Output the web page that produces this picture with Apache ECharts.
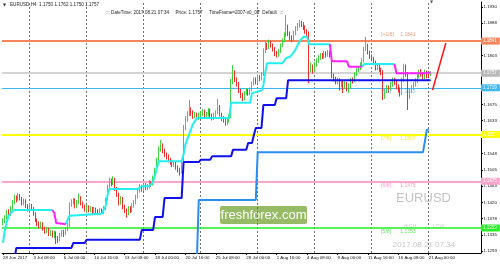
<!DOCTYPE html>
<html><head><meta charset="utf-8">
<script src="https://cdn.jsdelivr.net/npm/echarts@6/dist/echarts.min.js"></script>
<style>html,body{margin:0;padding:0;background:#fff}#c{width:500px;height:264px}</style>
</head><body><div id="c"></div>
<script>
// [open, close, low, high] H4 bars, 28 Jun 2017 16:00 ... 21 Aug 2017 04:00
const candles = [
[1.1366,1.1372,1.1360,1.1378],[1.1372,1.1380,1.1366,1.1386],[1.1380,1.1395,1.1376,1.1400],[1.1395,1.1388,1.1382,1.1402],
[1.1388,1.1405,1.1385,1.1410],[1.1405,1.1420,1.1400,1.1426],[1.1420,1.1432,1.1415,1.1440],[1.1432,1.1428,1.1420,1.1438],
[1.1428,1.1438,1.1424,1.1444],[1.1438,1.1430,1.1425,1.1442],[1.1430,1.1418,1.1412,1.1434],[1.1418,1.1425,1.1412,1.1430],
[1.1425,1.1410,1.1405,1.1428],[1.1410,1.1402,1.1396,1.1415],[1.1402,1.1412,1.1398,1.1418],[1.1412,1.1405,1.1398,1.1416],
[1.1405,1.1390,1.1385,1.1408],[1.1390,1.1372,1.1368,1.1394],[1.1372,1.1365,1.1358,1.1378],[1.1365,1.1358,1.1352,1.1370],
[1.1358,1.1365,1.1352,1.1370],[1.1365,1.1352,1.1346,1.1368],[1.1352,1.1345,1.1338,1.1356],[1.1345,1.1350,1.1340,1.1356],
[1.1350,1.1338,1.1332,1.1354],[1.1338,1.1342,1.1332,1.1348],[1.1342,1.1335,1.1328,1.1346],[1.1335,1.1340,1.1326,1.1346],
[1.1340,1.1325,1.1311,1.1344],[1.1325,1.1322,1.1314,1.1332],[1.1322,1.1335,1.1318,1.1340],[1.1335,1.1342,1.1330,1.1348],
[1.1342,1.1338,1.1330,1.1348],[1.1338,1.1350,1.1334,1.1355],[1.1350,1.1360,1.1345,1.1366],[1.1360,1.1415,1.1356,1.1420],
[1.1415,1.1420,1.1408,1.1428],[1.1420,1.1425,1.1414,1.1432],[1.1425,1.1410,1.1404,1.1430],[1.1410,1.1420,1.1405,1.1426],
[1.1420,1.1432,1.1415,1.1442],[1.1432,1.1418,1.1412,1.1436],[1.1418,1.1410,1.1404,1.1422],[1.1410,1.1402,1.1396,1.1414],
[1.1402,1.1408,1.1396,1.1414],[1.1408,1.1400,1.1394,1.1412],[1.1400,1.1405,1.1394,1.1410],[1.1405,1.1395,1.1390,1.1408],
[1.1395,1.1402,1.1390,1.1408],[1.1402,1.1398,1.1392,1.1406],[1.1398,1.1392,1.1386,1.1402],[1.1392,1.1400,1.1388,1.1405],
[1.1400,1.1395,1.1390,1.1404],[1.1395,1.1405,1.1390,1.1410],[1.1405,1.1428,1.1400,1.1432],[1.1428,1.1460,1.1424,1.1466],
[1.1460,1.1478,1.1455,1.1484],[1.1478,1.1470,1.1462,1.1482],[1.1470,1.1480,1.1465,1.1488],[1.1480,1.1455,1.1450,1.1484],
[1.1455,1.1440,1.1434,1.1460],[1.1440,1.1420,1.1412,1.1445],[1.1420,1.1430,1.1414,1.1436],[1.1430,1.1410,1.1402,1.1434],
[1.1410,1.1400,1.1392,1.1414],[1.1400,1.1392,1.1380,1.1404],[1.1392,1.1405,1.1386,1.1410],[1.1405,1.1398,1.1392,1.1410],
[1.1398,1.1412,1.1394,1.1418],[1.1412,1.1420,1.1406,1.1426],[1.1420,1.1435,1.1415,1.1440],[1.1435,1.1450,1.1430,1.1455],
[1.1450,1.1462,1.1445,1.1468],[1.1462,1.1455,1.1448,1.1466],[1.1455,1.1465,1.1450,1.1470],[1.1465,1.1458,1.1452,1.1470],
[1.1458,1.1462,1.1452,1.1468],[1.1462,1.1472,1.1456,1.1478],[1.1472,1.1468,1.1460,1.1476],[1.1468,1.1485,1.1464,1.1490],
[1.1485,1.1505,1.1480,1.1510],[1.1505,1.1530,1.1500,1.1536],[1.1530,1.1560,1.1526,1.1566],[1.1560,1.1570,1.1552,1.1583],
[1.1570,1.1555,1.1548,1.1574],[1.1555,1.1545,1.1538,1.1560],[1.1545,1.1540,1.1532,1.1550],[1.1540,1.1530,1.1524,1.1545],
[1.1530,1.1525,1.1518,1.1536],[1.1525,1.1520,1.1512,1.1530],[1.1520,1.1522,1.1512,1.1528],[1.1522,1.1512,1.1505,1.1526],
[1.1512,1.1505,1.1498,1.1516],[1.1505,1.1500,1.1490,1.1510],[1.1500,1.1520,1.1495,1.1525],[1.1520,1.1615,1.1516,1.1622],
[1.1615,1.1638,1.1608,1.1645],[1.1638,1.1650,1.1630,1.1658],[1.1650,1.1662,1.1645,1.1687],[1.1662,1.1655,1.1646,1.1668],
[1.1655,1.1645,1.1638,1.1660],[1.1645,1.1650,1.1640,1.1656],[1.1650,1.1640,1.1634,1.1654],[1.1640,1.1648,1.1635,1.1654],
[1.1648,1.1652,1.1640,1.1658],[1.1652,1.1658,1.1646,1.1664],[1.1658,1.1645,1.1640,1.1662],[1.1645,1.1650,1.1638,1.1656],
[1.1650,1.1660,1.1644,1.1666],[1.1660,1.1648,1.1642,1.1664],[1.1648,1.1640,1.1634,1.1652],[1.1640,1.1648,1.1635,1.1654],
[1.1648,1.1655,1.1642,1.1660],[1.1655,1.1670,1.1650,1.1690],[1.1670,1.1650,1.1644,1.1674],[1.1650,1.1640,1.1632,1.1654],
[1.1640,1.1635,1.1628,1.1645],[1.1635,1.1628,1.1620,1.1640],[1.1628,1.1632,1.1622,1.1638],[1.1632,1.1645,1.1628,1.1650],
[1.1645,1.1735,1.1640,1.1742],[1.1735,1.1760,1.1728,1.1778],[1.1760,1.1740,1.1734,1.1765],[1.1740,1.1730,1.1722,1.1746],
[1.1730,1.1712,1.1705,1.1734],[1.1712,1.1700,1.1692,1.1716],[1.1700,1.1690,1.1684,1.1706],[1.1690,1.1705,1.1686,1.1710],
[1.1705,1.1712,1.1700,1.1718],[1.1712,1.1705,1.1698,1.1716],[1.1705,1.1715,1.1700,1.1720],[1.1715,1.1730,1.1710,1.1735],
[1.1730,1.1740,1.1725,1.1746],[1.1740,1.1735,1.1728,1.1746],[1.1735,1.1748,1.1730,1.1754],[1.1748,1.1742,1.1736,1.1752],
[1.1742,1.1755,1.1738,1.1760],[1.1755,1.1815,1.1750,1.1822],[1.1815,1.1830,1.1810,1.1838],[1.1830,1.1825,1.1818,1.1836],
[1.1825,1.1838,1.1820,1.1845],[1.1838,1.1830,1.1824,1.1842],[1.1830,1.1820,1.1814,1.1835],[1.1820,1.1810,1.1802,1.1825],
[1.1810,1.1805,1.1798,1.1815],[1.1805,1.1815,1.1800,1.1820],[1.1815,1.1830,1.1810,1.1835],[1.1830,1.1842,1.1825,1.1848],
[1.1842,1.1858,1.1838,1.1864],[1.1858,1.1880,1.1852,1.1909],[1.1880,1.1860,1.1854,1.1884],[1.1860,1.1850,1.1842,1.1866],
[1.1850,1.1845,1.1838,1.1856],[1.1845,1.1862,1.1840,1.1868],[1.1862,1.1875,1.1856,1.1880],[1.1875,1.1882,1.1868,1.1888],
[1.1882,1.1890,1.1876,1.1896],[1.1890,1.1885,1.1878,1.1894],[1.1885,1.1878,1.1870,1.1890],[1.1878,1.1868,1.1860,1.1882],
[1.1868,1.1860,1.1852,1.1872],[1.1860,1.1770,1.1731,1.1866],[1.1770,1.1775,1.1760,1.1785],[1.1775,1.1765,1.1756,1.1780],
[1.1765,1.1780,1.1760,1.1786],[1.1780,1.1790,1.1774,1.1796],[1.1790,1.1798,1.1784,1.1804],[1.1798,1.1805,1.1792,1.1810],
[1.1805,1.1800,1.1794,1.1810],[1.1800,1.1810,1.1795,1.1816],[1.1810,1.1805,1.1798,1.1814],[1.1805,1.1812,1.1800,1.1818],
[1.1812,1.1805,1.1798,1.1816],[1.1805,1.1750,1.1744,1.1810],[1.1750,1.1742,1.1735,1.1756],[1.1742,1.1735,1.1728,1.1748],
[1.1735,1.1740,1.1728,1.1746],[1.1740,1.1728,1.1712,1.1744],[1.1728,1.1735,1.1720,1.1740],[1.1735,1.1722,1.1705,1.1738],
[1.1722,1.1730,1.1716,1.1736],[1.1730,1.1720,1.1710,1.1734],[1.1720,1.1725,1.1705,1.1730],[1.1725,1.1740,1.1718,1.1745],
[1.1740,1.1738,1.1730,1.1746],[1.1738,1.1755,1.1734,1.1760],[1.1755,1.1765,1.1750,1.1770],[1.1765,1.1770,1.1760,1.1776],
[1.1770,1.1780,1.1765,1.1786],[1.1780,1.1790,1.1775,1.1796],[1.1790,1.1820,1.1785,1.1826],[1.1820,1.1830,1.1815,1.1852],
[1.1830,1.1812,1.1806,1.1834],[1.1812,1.1800,1.1794,1.1816],[1.1800,1.1795,1.1788,1.1806],[1.1795,1.1785,1.1778,1.1800],
[1.1785,1.1770,1.1764,1.1790],[1.1770,1.1778,1.1765,1.1784],[1.1778,1.1768,1.1760,1.1782],[1.1768,1.1760,1.1752,1.1772],
[1.1760,1.1695,1.1687,1.1765],[1.1695,1.1710,1.1690,1.1716],[1.1710,1.1720,1.1705,1.1726],[1.1720,1.1715,1.1706,1.1725],
[1.1715,1.1728,1.1710,1.1734],[1.1728,1.1740,1.1722,1.1746],[1.1740,1.1735,1.1726,1.1745],[1.1735,1.1722,1.1715,1.1740],
[1.1722,1.1715,1.1706,1.1728],[1.1715,1.1705,1.1696,1.1720],[1.1705,1.1740,1.1700,1.1746],[1.1740,1.1775,1.1735,1.1782],
[1.1775,1.1755,1.1748,1.1780],[1.1755,1.1700,1.1661,1.1760],[1.1700,1.1712,1.1690,1.1718],[1.1712,1.1720,1.1705,1.1726],
[1.1720,1.1728,1.1714,1.1734],[1.1728,1.1738,1.1722,1.1744],[1.1738,1.1750,1.1732,1.1756],[1.1750,1.1760,1.1744,1.1766],
[1.1760,1.1755,1.1748,1.1768],[1.1755,1.1748,1.1740,1.1760],[1.1748,1.1760,1.1742,1.1766],[1.1760,1.1750,1.1744,1.1764],
[1.1752,1.1750,1.1744,1.1756],[1.1750,1.1757,1.1750,1.1762]
];
// trailing line vertices [bar index, price]
const trendLine = [[0,1.1314],[1,1.1348],[2,1.1369],[3,1.1384],[4,1.1392],[5,1.1397],[6,1.1400],[26,1.1400],[27,1.1392],[28,1.1366],[29,1.1363],[33,1.1363],[34,1.1363],[35,1.1385],[36,1.1390],[52,1.1390],[53,1.1395],[54,1.1410],[55,1.1440],[56,1.1455],[71,1.1455],[72,1.1460],[73,1.1462],[77,1.1462],[78,1.1468],[79,1.1475],[80,1.1490],[81,1.1510],[82,1.1527],[94,1.1527],[95,1.1545],[96,1.1572],[97,1.1585],[98,1.1598],[99,1.1612],[100,1.1625],[101,1.1632],[102,1.1640],[119,1.1640],[120,1.1680],[130,1.1680],[131,1.1705],[132,1.1710],[136,1.1712],[137,1.1725],[138,1.1760],[139,1.1783],[147,1.1783],[148,1.1790],[149,1.1797],[151,1.1800],[152,1.1805],[153,1.1812],[154,1.1820],[155,1.1830],[156,1.1840],[157,1.1846],[158,1.1852],[160,1.1852],[161,1.1833],[172,1.1833],[173,1.1788],[181,1.1788],[182,1.1774],[189,1.1774],[190,1.1781],[206,1.1781],[207,1.1757],[222,1.1757],[223,1.1759],[225,1.1759]];
const trendUpRanges = [[0,26],[33,172],[189,206]];
const trendDownRanges = [[26,33],[172,189],[206,225]];
const blueStep = [[0,1.1270],[6,1.1270],[7,1.1301],[36,1.1301],[37,1.1314],[43,1.1314],[44,1.1322],[72,1.1322],[73,1.1348],[79,1.1348],[80,1.1382],[84,1.1382],[85,1.1431],[94,1.1431],[95,1.1525],[103,1.1525],[104,1.1531],[109,1.1531],[110,1.1540],[120,1.1540],[121,1.1557],[128,1.1557],[129,1.1575],[131,1.1575],[132,1.1596],[133,1.1614],[136,1.1614],[137,1.1674],[143,1.1674],[144,1.1692],[149,1.1692],[150,1.1739],[225,1.1739]];
const dodgerStep = [[102,1.1270],[103,1.1426],[133,1.1426],[134,1.1551],[221,1.1551],[223,1.1609],[224,1.1610]];
const projection = [[226,1.1713],[233,1.1836]];
const levels = [
  {name:'[+1/8]', value:1.1841, color:'#f5845a', text:'#f5845a', width:2},
  {name:'[8/8]',  value:1.1719, color:'#3cb8ee', text:'#5cc0f0', width:1},
  {name:'[7/8]',  value:1.1597, color:'#ffff00', text:'#e6e600', width:2},
  {name:'[6/8]',  value:1.1475, color:'#fba4cc', text:'#ff80b8', width:2},
  {name:'[5/8]',  value:1.1353, color:'#22ee22', text:'#33dd33', width:1.5}
];
const bidPrice = 1.1757;
const weekStarts = [14,44,74,104,134,164,194,224];
const xTickLabels = ['28 Jun 2017','3 Jul 08:00','6 Jul 00:00','10 Jul 16:00','13 Jul 08:00','18 Jul 00:00','20 Jul 16:00','25 Jul 08:00','28 Jul 00:00','1 Aug 16:00','4 Aug 08:00','9 Aug 00:00','11 Aug 16:00','16 Aug 08:00','21 Aug 00:00'];
const yTickValues = [1.1930,1.1888,1.1845,1.1803,1.1760,1.1718,1.1675,1.1633,1.1590,1.1548,1.1505,1.1463,1.1420,1.1378,1.1335,1.1293];
const totalBars = 252;

const F = 'Liberation Sans';
const cats = Array.from({length: totalBars}, (_, i) => String(i));
const labIdx = i => i % 16 === 0 && i <= 224;

function pick(ranges){
  return ranges.map(([a,b]) => trendLine.filter(p => p[0] >= a && p[0] <= b));
}
const lineSeries = [];
pick(trendUpRanges).forEach(d => lineSeries.push({type:'line', data:d, showSymbol:false, silent:true, z:4, lineStyle:{color:'#22f0f0', width:2}}));
pick(trendDownRanges).forEach(d => lineSeries.push({type:'line', data:d, showSymbol:false, silent:true, z:4, lineStyle:{color:'#ff22ff', width:2}}));

const markData = [];
weekStarts.forEach(w => markData.push({xAxis:String(w), lineStyle:{color:'#707070', width:1, type:[2,2]}, label:{show:false}}));
levels.forEach(l => markData.push({yAxis:l.value, lineStyle:{color:l.color, width:l.width, type:'solid'},
  label:{show:true, position:'end', distance:0, formatter:l.value.toFixed(4), backgroundColor:l.color, color:'#fff', fontSize:4.5, fontFamily:F, padding:[1,3,1,2]}}));
markData.push({yAxis:bidPrice, lineStyle:{color:'#c4c4c4', width:1.5, type:'solid'},
  label:{show:true, position:'end', distance:0, formatter:bidPrice.toFixed(4), backgroundColor:'#b8b8b8', color:'#fff', fontSize:4.5, fontFamily:F, padding:[1,3,1,2]}});

const levelTextData = [];
levels.forEach(l => {
  const off = l.name === '[+1/8]' ? -6 : 4;
  levelTextData.push({value:[199, l.value], label:{formatter:l.name, color:l.text, offset:[0,off]}});
  levelTextData.push({value:[209, l.value], label:{formatter:l.value.toFixed(4), color:l.text, offset:[0,off]}});
});

const chart = echarts.init(document.getElementById('c'));
chart.setOption({
  animation:false,
  backgroundColor:'#ffffff',
  grid:{left:2, right:19, top:2, bottom:11},
  xAxis:{type:'category', data:cats, boundaryGap:true,
    axisLine:{lineStyle:{color:'#000', width:1}},
    axisTick:{show:true, interval:labIdx, alignWithLabel:true, length:2, lineStyle:{color:'#000'}},
    axisLabel:{interval:labIdx, formatter:(v)=>xTickLabels[parseInt(v)/16], fontSize:4.4, color:'#111', align:'left', margin:2.5, fontFamily:F},
    splitLine:{show:false}},
  yAxis:{type:'value', position:'right', min:1.12877, max:1.1943,
    axisLine:{show:true, lineStyle:{color:'#000'}},
    axisTick:{show:true, customValues:yTickValues, length:2, lineStyle:{color:'#000'}},
    axisLabel:{customValues:yTickValues, formatter:v=>v.toFixed(4), fontSize:4.4, color:'#111', margin:2.5, fontFamily:F},
    splitLine:{show:false}},
  series:[
    {type:'candlestick', data:candles, barWidth:1.3, z:3,
      itemStyle:{color:'#3fd23f', color0:'#f22a2a', borderColor:'#3fd23f', borderColor0:'#f22a2a', borderWidth:1},
      markLine:{symbol:['none','none'], precision:4, silent:true, animation:false, z:1, data:markData}},
    {type:'line', data:dodgerStep, showSymbol:false, silent:true, z:4, lineStyle:{color:'#2a8ef0', width:2}},
    {type:'line', data:blueStep, showSymbol:false, silent:true, z:4, lineStyle:{color:'#1010ee', width:2}},
    ...lineSeries,
    {type:'line', data:projection, showSymbol:false, silent:true, z:4, lineStyle:{color:'#ff1010', width:1.5}},
    {type:'scatter', data:levelTextData, symbolSize:0, silent:true, z:5,
      label:{show:true, position:'right', distance:0, fontSize:5, fontFamily:F}}
  ],
  graphic:[
    {type:'text', left:3, top:2.5, style:{text:'▼', fontSize:4, fill:'#333', fontFamily:'DejaVu Sans'}},
    {type:'text', left:10, top:2.5, style:{text:'EURUSD,H4  1.1750 1.1762 1.1750 1.1757', fontSize:4.6, fill:'#222', fontFamily:F}},
    {type:'text', left:106, top:10.5, style:{text:'::: DateTime: 2017.08.21 07:34     Price: 1.1757     TimeFrame=2007-v0_05', fontSize:4.6, fill:'#222', fontFamily:F}},
    {type:'text', left:258, top:10.5, style:{text:'*  Default  :::', fontSize:4.6, fill:'#222', fontFamily:F}},
    {type:'text', left:430, top:0, style:{text:'▼', fontSize:4, fill:'#555', fontFamily:'DejaVu Sans'}},
    {type:'rect', shape:{x:220, y:206, width:87, height:18, r:2}, style:{fill:'#96ba66'}},
    {type:'text', x:263.5, y:215, style:{text:'freshforex.com', fontSize:13, fill:'#ffffff', fontFamily:F, align:'center', verticalAlign:'middle'}},
    {type:'text', x:423.5, y:198, style:{text:'EURUSD', fontSize:13, fill:'#c4c4c4', fontFamily:F, align:'center', verticalAlign:'middle'}},
    {type:'text', x:410, y:227, style:{text:'HIGH', fontSize:5, fill:'#cccccc', fontFamily:F, align:'center', verticalAlign:'middle'}},
    {type:'text', x:438.5, y:227, style:{text:'LOW', fontSize:5, fill:'#cccccc', fontFamily:F, align:'center', verticalAlign:'middle'}},
    {type:'text', x:424, y:245, style:{text:'2017.08.21 07:34', fontSize:8, fill:'#c8c8c8', fontFamily:F, align:'center', verticalAlign:'middle'}}
  ]
});
</script></body></html>
